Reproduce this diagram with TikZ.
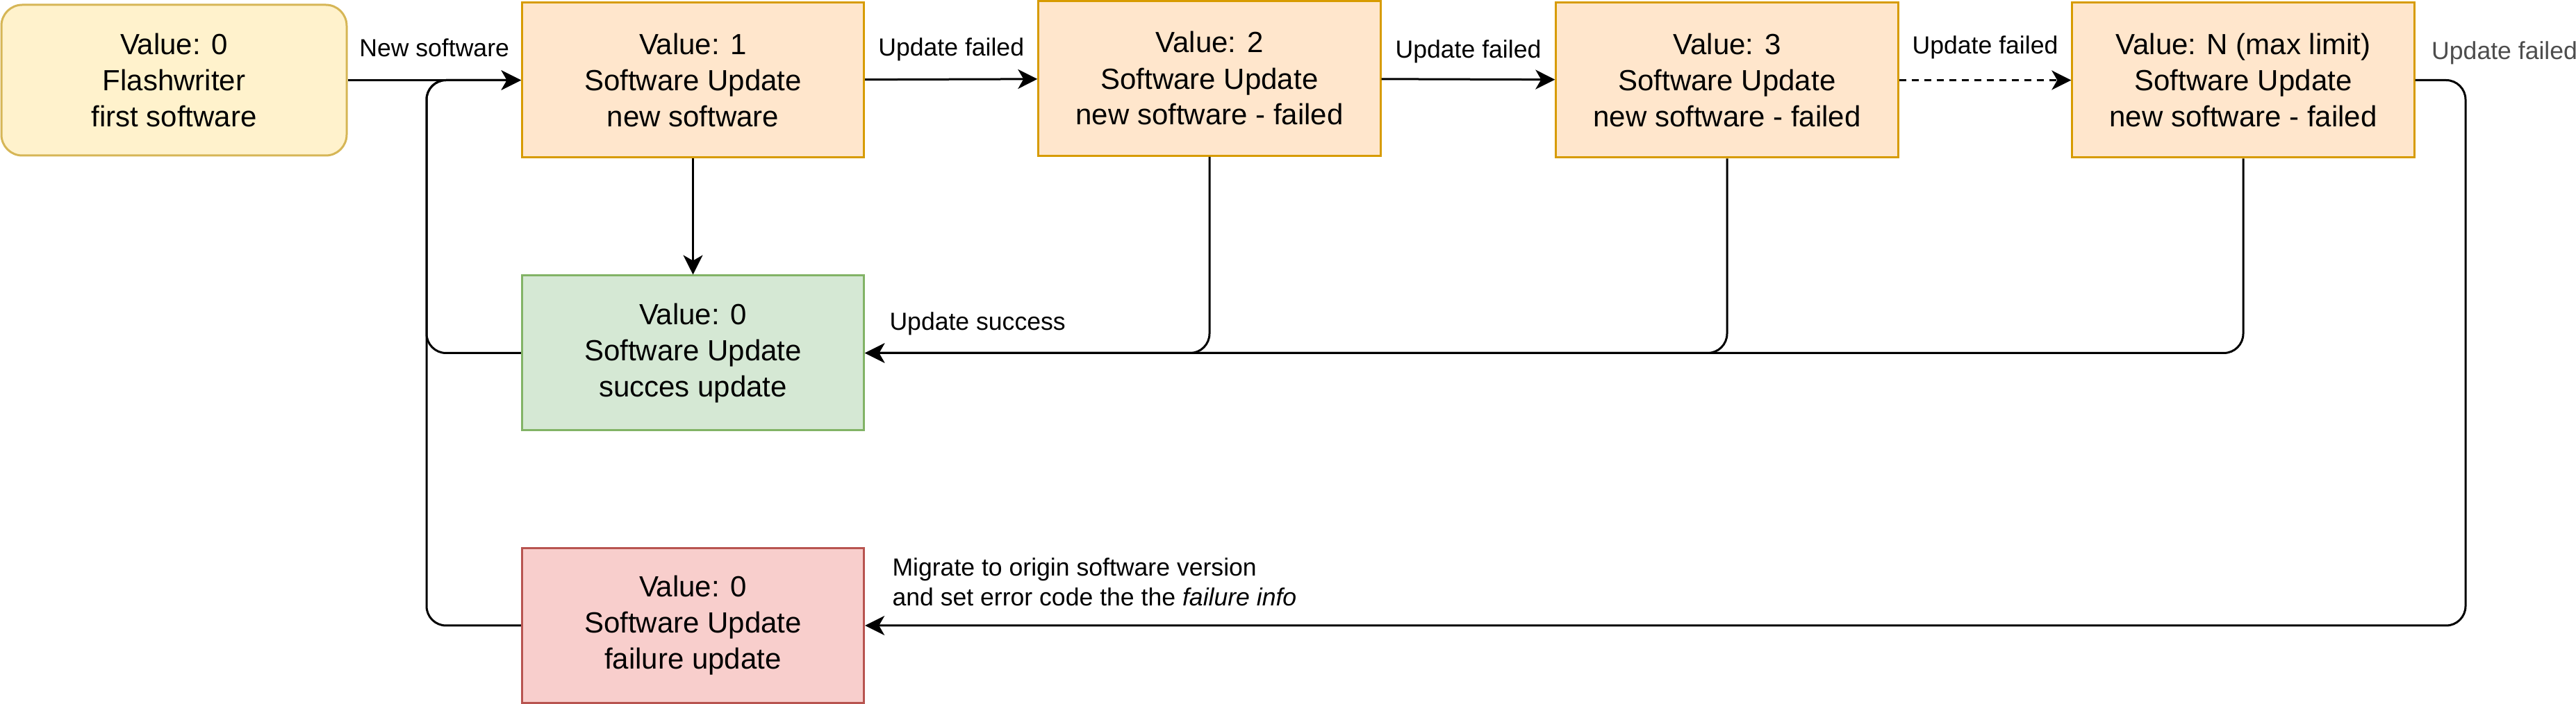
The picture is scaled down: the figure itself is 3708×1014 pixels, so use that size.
\documentclass[tikz,border=0pt]{standalone}
\usepackage{fontspec}
\setmainfont{Liberation Sans}
\usetikzlibrary{arrows.meta}

\definecolor{firstfill}{HTML}{FFF2CC}
\definecolor{firstline}{HTML}{D6B656}
\definecolor{tryfill}{HTML}{FFE6CC}
\definecolor{tryline}{HTML}{D79B00}
\definecolor{okfill}{HTML}{D5E8D4}
\definecolor{okline}{HTML}{82B366}
\definecolor{badfill}{HTML}{F8CECC}
\definecolor{badline}{HTML}{B85450}
\definecolor{notegray}{HTML}{4D4D4D}

\begin{document}
\begin{tikzpicture}[->, x=0.25pt, y=-0.25pt, line width=0.75pt,
	>={Stealth[length=7pt, width=7pt, inset=2pt]},
	state/.style={draw, line width=0.75pt, minimum width=123.1pt, minimum height=55.75pt,
		inner sep=0pt, align=center, font=\fontsize{10.5}{13}\selectfont},
	lbl/.style={font=\fontsize{8.9}{10.75}\selectfont, inner sep=0pt, text=black}]

	\useasboundingbox (0,0) rectangle (3708,1014);

	% draw states
	\node[state, rounded corners=7.5pt, fill=firstfill, draw=firstline, minimum width=124.25pt, minimum height=54.25pt] (first) at (250.5,115.5) {Value: 0\\Flashwriter\\first software};
	\node[state, fill=tryfill, draw=tryline] (v1) at (997.5,115.5) {Value: 1\\Software Update\\new software};
	\foreach \n/\x/\y/\v in {v2/1741/113/2, v3/2486/115.5/3, vN/3229/115.5/N (max limit)}
	{
		\node[state, fill=tryfill, draw=tryline] (\n) at (\x,\y) {Value: \v\\Software Update\\new software - failed};
	}
	\node[state, fill=okfill, draw=okline] (ok) at (997.5,508.5) {Value: 0\\Software Update\\succes update};
	\node[state, fill=badfill, draw=badline] (bad) at (997.5,901) {Value: 0\\Software Update\\failure update};

	\coordinate (back) at (614,115.5);
	\coordinate (outer) at (3549,115.5);

	% draw edges
	\draw[->] (first) -- node[lbl, anchor=base, yshift=8.6pt] (l_new) {New software} (v1);
	\draw[->] (v1) -- node[lbl, anchor=base, yshift=8.5pt] (l_f1) {Update failed} (v2);
	\draw[->] (v2) -- node[lbl, anchor=base, yshift=7.6pt] (l_f2) {Update failed} (v3);
	\draw[->, dash pattern=on 2.5pt off 2pt] (v3) -- node[lbl, anchor=base, yshift=9.6pt] (l_f3) {Update failed} (vN);
	\draw[->] (v1) -- (ok);

	% draw return paths
	\foreach \n in {v2,v3,vN}
	{
		\draw[->, rounded corners=7pt] (\n.south) |- (ok.east);
	}
	\node[lbl, anchor=base west] (l_ok) at (1279,475.5) {Update success};
	\draw[->, rounded corners=7pt] (ok.west) -| (back) -- (v1.west);
	\draw[->, rounded corners=7pt] (bad.west) -| (back) -- (v1.west);
	\draw[->, rounded corners=7pt] (vN.east) -- node[lbl, pos=0, anchor=base west, xshift=5.5pt, yshift=7.4pt, text=notegray] (l_max) {Update failed} (outer) |- (bad.east);
	\node[lbl, anchor=south west, align=left] (l_bad) at (1283,874) {Migrate to origin software version\\and set error code the the \textit{failure info}};

\end{tikzpicture}
\end{document}
